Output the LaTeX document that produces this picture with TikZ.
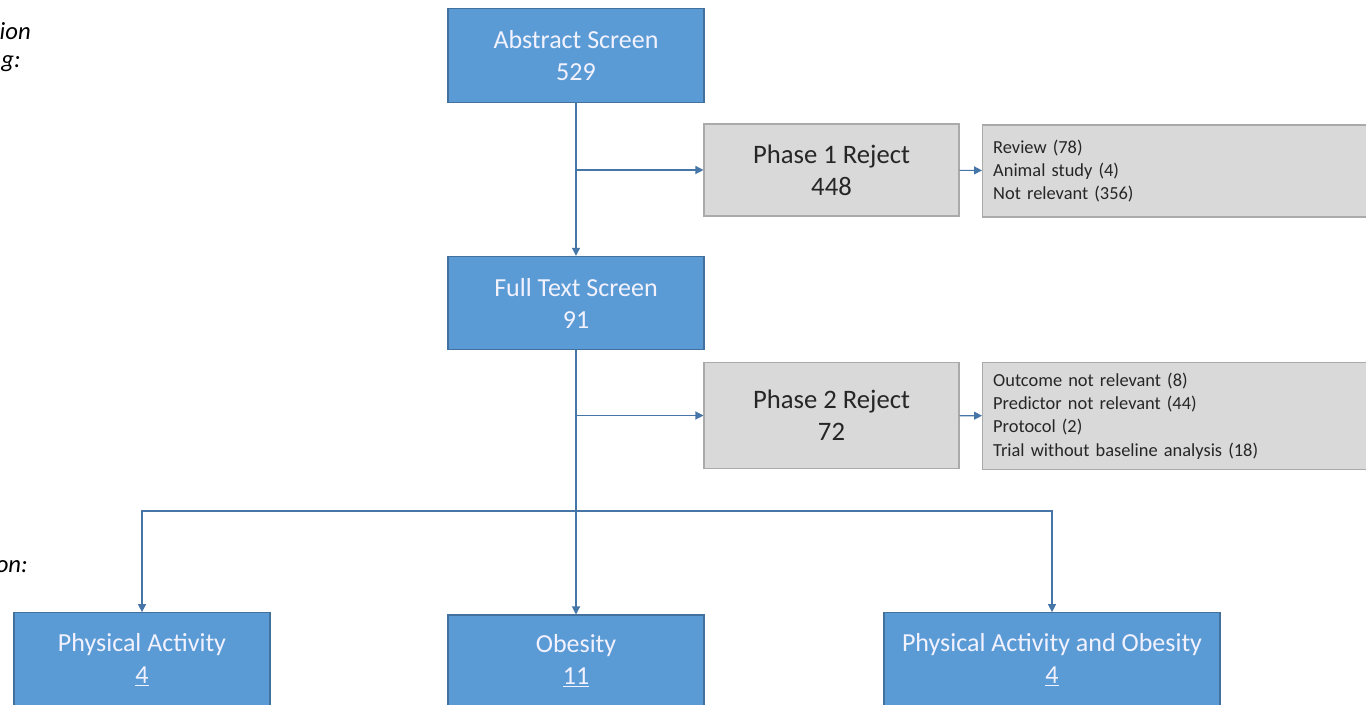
\documentclass[tikz,border=0pt]{standalone}
\usepackage{fontspec}
\setmainfont{Carlito}
\usetikzlibrary{arrows.meta,positioning}
\definecolor{boxblue}{RGB}{91,155,213}
\definecolor{boxedge}{RGB}{65,113,156}
\definecolor{rejgray}{RGB}{217,217,217}
\definecolor{rejedge}{RGB}{170,170,170}
\definecolor{linkblue}{RGB}{70,118,168}
\tikzset{
  screenbox/.style={draw=boxedge, fill=boxblue, text=white!95!blue, line width=0.8pt,
    minimum width=192pt, minimum height=70pt, align=center, inner sep=0pt,
    font=\fontsize{19.5}{24}\selectfont},
  rejectbox/.style={draw=rejedge, fill=rejgray, text=black!85, line width=0.8pt,
    minimum width=191.25pt, minimum height=69pt, align=center, inner sep=0pt,
    font=\fontsize{20}{24}\selectfont},
  listbox/.style={draw=rejedge, fill=rejgray, text=black!85, line width=0.8pt,
    minimum height=69pt, text width=284pt, inner xsep=8pt, inner ysep=0pt, align=left,
    font=\fontsize{13.8}{17.5}\selectfont},
  sidenote/.style={font=\itshape\fontsize{18.5}{18}\selectfont, inner sep=0pt, anchor=east},
  link/.style={draw=linkblue, line width=0.9pt, -{Triangle[width=6pt,length=6pt]}},
  bar/.style={draw=linkblue, line width=0.9pt}
}
\begin{document}
\begin{tikzpicture}[x=0.75pt,y=0.75pt,yscale=-1,xscale=1]
\path[use as bounding box, clip] (0,0) rectangle (1366,705);
\fill[white] (0,0) rectangle (1366,705);

% Text Node
\node[sidenote] (capa) at (31,31) {ion};
\node[sidenote] (capb) at (21,64) {g:};
\node[sidenote] (capc) at (28,567) {on:};

%Shape: Rectangle screens
\node[screenbox] (abs) at (576,55.5) {Abstract Screen\\529};
\node[screenbox] (full) at (576,303) {Full Text Screen\\91};

%Shape: Rectangle rejects
\node[rejectbox] (rejA) at (831.5,170) {Phase 1 Reject\\448};
\node[rejectbox, minimum height=80pt] (rejB) at (831.5,415.5) {Phase 2 Reject\\72};

%Shape: Rectangle reasons
\node[listbox, anchor=west] (whyA) at (982,171) {Review (78)\\Animal study (4)\\Not relevant (356)\\[6pt]};
\node[listbox, anchor=west, minimum height=80pt] (whyB) at (982,416) {Outcome not relevant (8)\\Predictor not relevant (44)\\Protocol (2)\\Trial without baseline analysis (18)};

%Shape: Rectangle outcomes
\node[screenbox, minimum height=71pt] (pa) at (142,660) {Physical Activity\\\underline{4}};
\node[screenbox, minimum height=69pt] (ob) at (576,661) {Obesity\\\underline{11}};
\node[screenbox, minimum width=252pt, minimum height=71pt] (pao) at (1052,660) {Physical Activity and Obesity\\\underline{4}};

%Straight Lines
\draw[link] (abs) -- (full);
\draw[link] (rejA.west -| abs.south) -- (rejA.west);
\draw[link] (rejA) -- (whyA);
\draw[link] (rejB.west -| full.south) -- (rejB.west);
\draw[link] (rejB) -- (whyB);

\coordinate (hub) at (576,511);
\draw[bar] (full.south) -- (hub);
\draw[link] (hub) -- (ob);
\draw[link] (hub) -| (pa);
\draw[link] (hub) -| (pao);
\end{tikzpicture}
\end{document}
